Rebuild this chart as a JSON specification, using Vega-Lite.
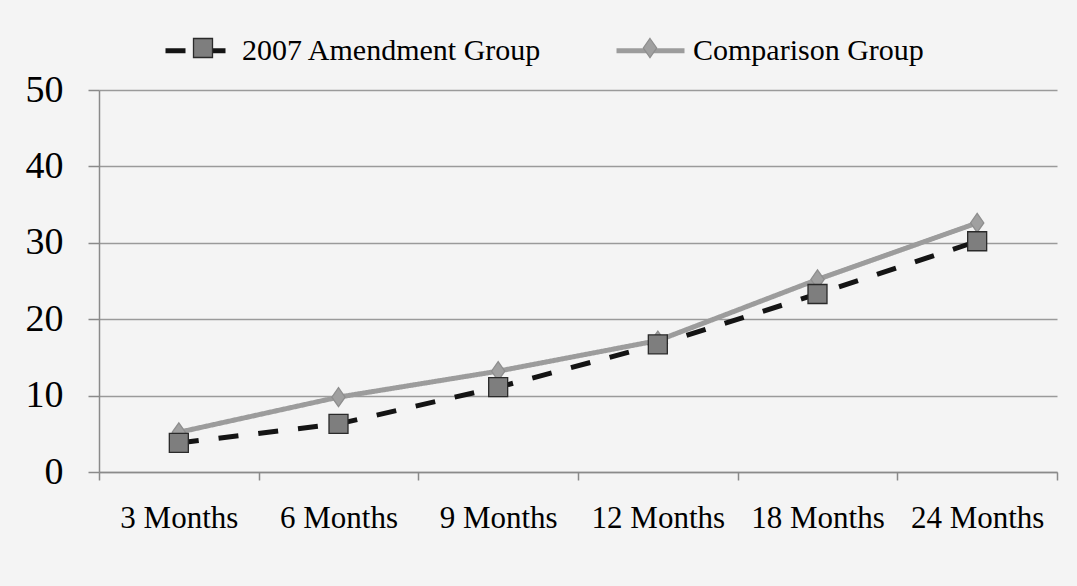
{
  "$schema": "https://vega.github.io/schema/vega-lite/v6.json",
  "width": 958,
  "height": 382,
  "autosize": {"type": "none"},
  "padding": {"left": 99, "top": 90, "right": 20, "bottom": 114},
  "background": "#f4f4f4",
  "config": {"view": {"stroke": null}, "font": "Liberation Serif"},
  "data": {
    "values": [
      {"period": "3 Months", "group": "Comparison Group", "value": 5.2},
      {"period": "6 Months", "group": "Comparison Group", "value": 9.8},
      {"period": "9 Months", "group": "Comparison Group", "value": 13.2},
      {"period": "12 Months", "group": "Comparison Group", "value": 17.2},
      {"period": "18 Months", "group": "Comparison Group", "value": 25.2},
      {"period": "24 Months", "group": "Comparison Group", "value": 32.6},
      {"period": "3 Months", "group": "2007 Amendment Group", "value": 3.8},
      {"period": "6 Months", "group": "2007 Amendment Group", "value": 6.3},
      {"period": "9 Months", "group": "2007 Amendment Group", "value": 11.1},
      {"period": "12 Months", "group": "2007 Amendment Group", "value": 16.7},
      {"period": "18 Months", "group": "2007 Amendment Group", "value": 23.3},
      {"period": "24 Months", "group": "2007 Amendment Group", "value": 30.2}
    ]
  },
  "encoding": {
    "x": {
      "field": "period",
      "type": "ordinal",
      "sort": ["3 Months", "6 Months", "9 Months", "12 Months", "18 Months", "24 Months"],
      "scale": {"type": "band", "paddingInner": 0, "paddingOuter": 0},
      "axis": {
        "title": null,
        "labelAngle": 0,
        "labelFont": "Liberation Serif",
        "labelFontSize": 31,
        "labelColor": "#000000",
        "labelPadding": 23,
        "tickBand": "extent",
        "tickSize": 8,
        "tickColor": "#8a8a8a",
        "tickWidth": 1.5,
        "domainColor": "#8a8a8a",
        "domainWidth": 1.5,
        "grid": false
      }
    },
    "y": {
      "field": "value",
      "type": "quantitative",
      "scale": {"domain": [0, 50]},
      "axis": {
        "title": null,
        "values": [0, 10, 20, 30, 40, 50],
        "labelFont": "Liberation Serif",
        "labelFontSize": 38,
        "labelColor": "#000000",
        "labelPadding": 25,
        "tickSize": 11,
        "tickColor": "#8a8a8a",
        "tickWidth": 1.5,
        "domainColor": "#8a8a8a",
        "domainWidth": 1.5,
        "grid": true,
        "gridColor": "#9a9a9a",
        "gridWidth": 1.5
      }
    }
  },
  "layer": [
    {
      "mark": {"type": "line", "strokeWidth": 5, "strokeCap": "butt"},
      "encoding": {
        "color": {
          "field": "group",
          "type": "nominal",
          "scale": {"domain": ["2007 Amendment Group", "Comparison Group"], "range": ["#141414", "#9c9c9c"]},
          "legend": {
            "orient": "none",
            "legendX": 64,
            "legendY": -76,
            "direction": "horizontal",
            "title": null,
            "symbolType": "stroke",
            "symbolSize": 4624,
            "symbolStrokeWidth": 5,
            "labelFont": "Liberation Serif",
            "labelFontSize": 30,
            "labelColor": "#000000",
            "labelOffset": 6,
            "labelLimit": 600,
            "columnPadding": 64,
            "padding": 0
          }
        },
        "strokeDash": {
          "field": "group",
          "type": "nominal",
          "scale": {"domain": ["2007 Amendment Group", "Comparison Group"], "range": [[20, 20], [1, 0]]},
          "legend": {
            "orient": "none",
            "legendX": 64,
            "legendY": -76,
            "direction": "horizontal",
            "title": null,
            "symbolType": "stroke",
            "symbolSize": 4624,
            "symbolStrokeWidth": 5,
            "labelFont": "Liberation Serif",
            "labelFontSize": 30,
            "labelColor": "#000000",
            "labelOffset": 6,
            "labelLimit": 600,
            "columnPadding": 64,
            "padding": 0
          }
        }
      }
    },
    {
      "mark": {"type": "point", "filled": true, "size": 361, "strokeWidth": 1.3, "opacity": 1},
      "encoding": {
        "shape": {
          "field": "group",
          "type": "nominal",
          "scale": {"range": ["square", "M0,-1L0.7,0L0,1L-0.7,0Z"]},
          "legend": {
            "orient": "none",
            "legendX": 89,
            "legendY": -57,
            "direction": "horizontal",
            "title": null,
            "symbolSize": 361,
            "symbolStrokeWidth": 1.3,
            "labelExpr": "''",
            "labelFontSize": 30,
            "labelOffset": 6,
            "columnPadding": 411,
            "padding": 0
          }
        },
        "fill": {
          "field": "group",
          "type": "nominal",
          "scale": {"range": ["#7e7e7e", "#a0a0a0"]},
          "legend": {
            "orient": "none",
            "legendX": 89,
            "legendY": -57,
            "direction": "horizontal",
            "title": null,
            "symbolSize": 361,
            "symbolStrokeWidth": 1.3,
            "labelExpr": "''",
            "labelFontSize": 30,
            "labelOffset": 6,
            "columnPadding": 411,
            "padding": 0
          }
        },
        "stroke": {
          "field": "group",
          "type": "nominal",
          "scale": {"range": ["#2a2a2a", "#8e8e8e"]},
          "legend": {
            "orient": "none",
            "legendX": 89,
            "legendY": -57,
            "direction": "horizontal",
            "title": null,
            "symbolSize": 361,
            "symbolStrokeWidth": 1.3,
            "labelExpr": "''",
            "labelFontSize": 30,
            "labelOffset": 6,
            "columnPadding": 411,
            "padding": 0
          }
        }
      }
    }
  ]
}
